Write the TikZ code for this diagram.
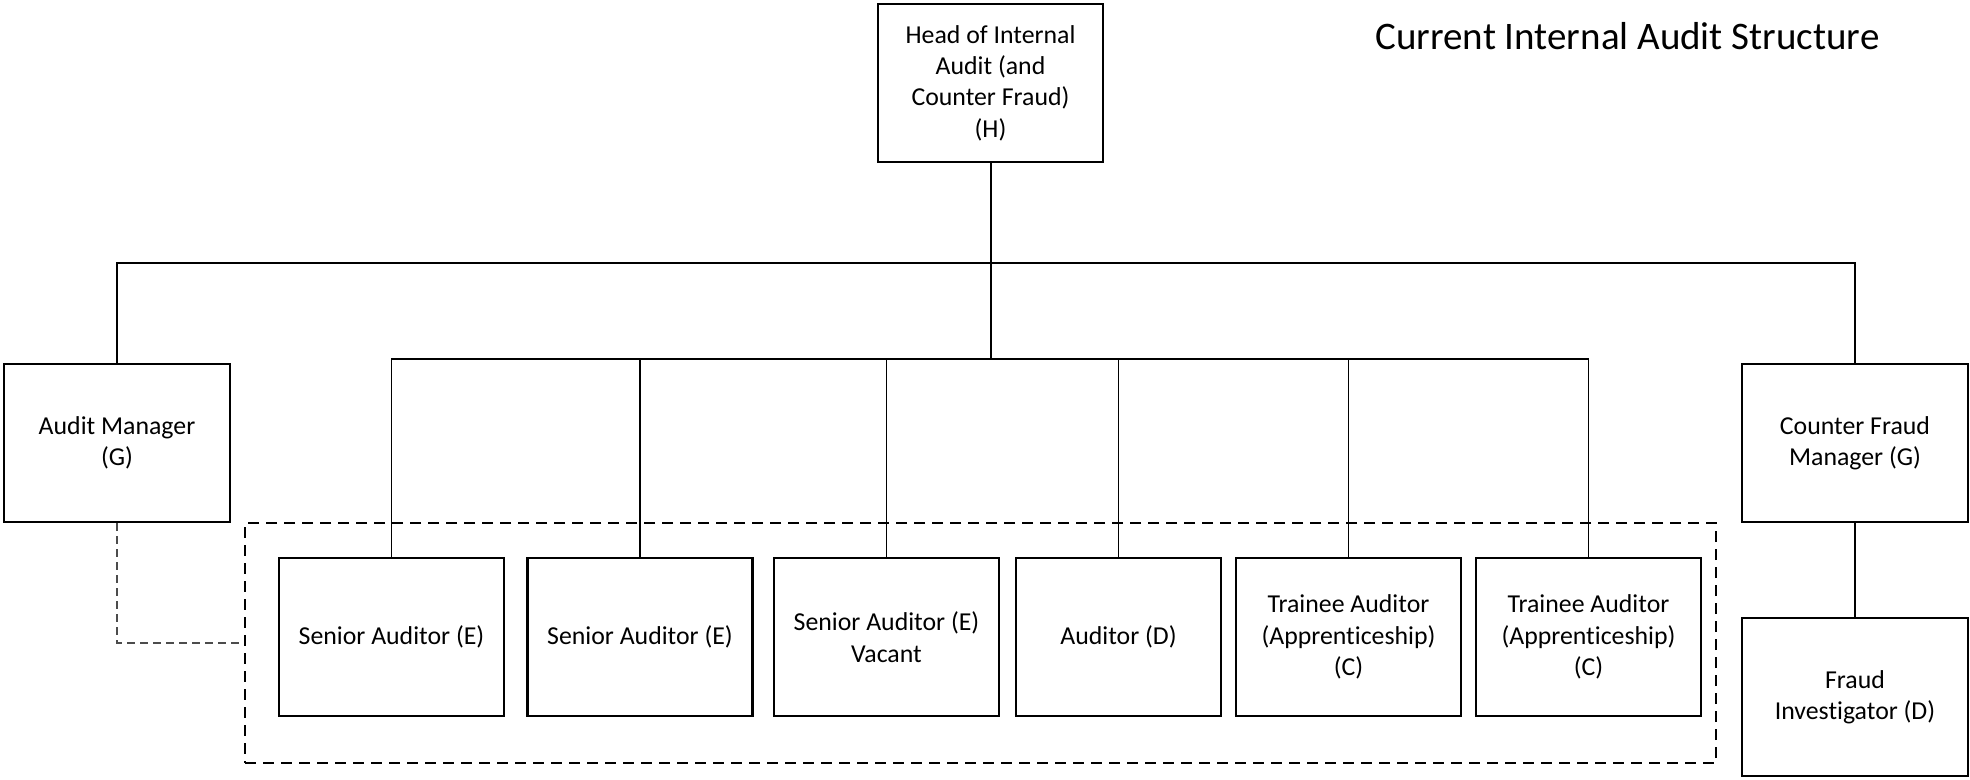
\documentclass[tikz,border=0pt]{standalone}
\usepackage{fontspec}
\setmainfont{Carlito}[RawFeature={-liga;-clig;-calt;-dlig}]
\begin{document}
\begin{tikzpicture}[x=1pt,y=-1pt,
  box/.style={draw=black,line width=2.8pt,fill=white,align=center,inner sep=2pt,
    font=\fontsize{25.8}{31.4}\selectfont},
  conn/.style={draw=black,line width=1.5pt},
  dashconn/.style={draw=black!70,line width=1.6pt,dash pattern=on 8pt off 5pt},
  groupbox/.style={draw=black,line width=2.8pt,dash pattern=on 11pt off 7pt,minimum width=1471pt,minimum height=240pt,inner sep=0pt}]
\useasboundingbox (0,0) rectangle (1970,779);
% title
\node[anchor=base,inner sep=0pt,font=\fontsize{39}{47}\selectfont] (title) at (1627.5,49) {Current Internal Audit Structure};
% dashed group
\node[groupbox] (grp) at (980.5,643) {};
% boxes
\node[box,minimum width=225pt,minimum height=158pt] (head) at (990.5,83) {Head of Internal\\Audit (and\\Counter Fraud)\\(H)};
\node[box,minimum width=226pt,minimum height=158pt] (am) at (117,443) {Audit Manager\\(G)};
\node[box,minimum width=226pt,minimum height=158pt] (cfm) at (1855,443) {Counter Fraud\\Manager (G)};
\node[box,minimum width=226pt,minimum height=158pt] (fi) at (1855,697) {Fraud\\Investigator (D)};
\node[box,minimum width=225pt,minimum height=158pt] (sa1) at (391.5,637) {Senior Auditor (E)};
\node[box,minimum width=225pt,minimum height=158pt] (sa2) at (640,637) {Senior Auditor (E)};
\node[box,minimum width=225pt,minimum height=158pt] (sa3) at (886.5,637) {Senior Auditor (E)\\Vacant};
\node[box,minimum width=205pt,minimum height=158pt] (aud) at (1118.5,637) {Auditor (D)};
\node[box,minimum width=225pt,minimum height=158pt] (ta1) at (1348.5,637) {Trainee Auditor\\(Apprenticeship)\\(C)};
\node[box,minimum width=225pt,minimum height=158pt] (ta2) at (1588.5,637) {Trainee Auditor\\(Apprenticeship)\\(C)};
% bus levels
\coordinate (busa) at (0,263);
\coordinate (busb) at (0,359);
% connectors
\draw[conn] (am.north) -- (am.north |- busa) -| (cfm.north);
\draw[conn,line width=2pt] (head.south) -- (head.south |- busb);
\draw[conn] (sa1.north) -- (sa1.north |- busb) -| (ta2.north);
\draw[conn] (sa2.north) -- (sa2.north |- busb);
\draw[conn] (sa3.north) -- (sa3.north |- busb);
\draw[conn] (aud.north) -- (aud.north |- busb);
\draw[conn] (ta1.north) -- (ta1.north |- busb);
\draw[conn] (cfm.south) -- (fi.north);
\draw[dashconn] (am.south) |- (grp.west);
\end{tikzpicture}
\end{document}
